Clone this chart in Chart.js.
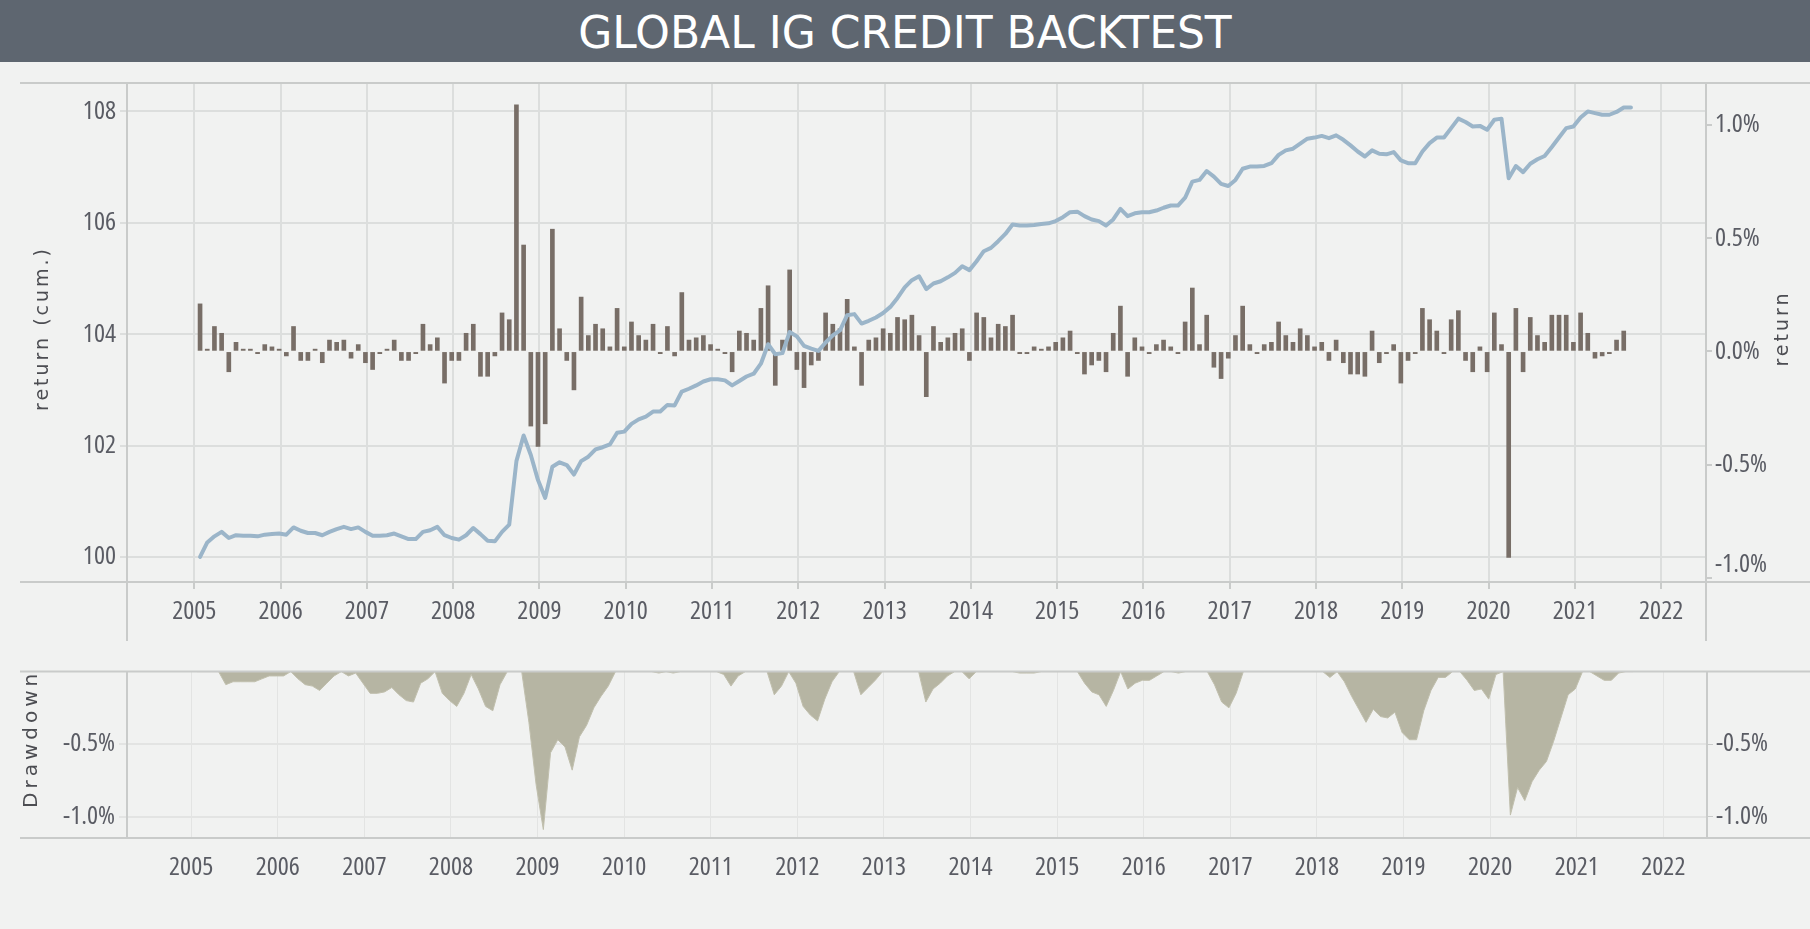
<!DOCTYPE html>
<html>
<head>
<meta charset="utf-8">
<title>Global IG Credit Backtest</title>
<script src="https://cdn.jsdelivr.net/npm/chart.js@4.4.0/dist/chart.umd.min.js"></script>
<style>
  html, body { margin: 0; padding: 0; background: #f1f2f1; }
  body { width: 1810px; height: 929px; position: relative; overflow: hidden; }
  .header {
    position: absolute; left: 0; top: 0; width: 1810px; height: 60px; padding-top: 2px;
    background: #5e6670; color: #fff; text-align: center;
    font-family: 'DejaVu Sans', Verdana, sans-serif; font-size: 44px; line-height: 62px;
  }
  #mainChart { position: absolute; left: 0; top: 62px; }
  #ddChart { position: absolute; left: 0; top: 652px; }
</style>
</head>
<body>
<div class="header">GLOBAL IG CREDIT BACKTEST</div>
<canvas id="mainChart" width="1810" height="590"></canvas>
<canvas id="ddChart" width="1810" height="277"></canvas>
<script>
// monthly observations, first one is Jan 2005
const firstYear = 2005;
const years = [2005, 2006, 2007, 2008, 2009, 2010, 2011, 2012, 2013, 2014, 2015, 2016, 2017, 2018, 2019, 2020, 2021, 2022];
const cumTicks = [100, 102, 104, 106, 108];
const returnTicks = [-1, -0.5, 0, 0.5, 1];
const drawdownTicks = [-1, -0.5];

// cumulative return index
const cumReturn = [
  100.00, 100.26, 100.37, 100.45, 100.34, 100.39, 100.38, 100.38, 100.37, 100.40, 100.41, 100.42,
  100.40, 100.53, 100.47, 100.43, 100.43, 100.39, 100.45, 100.50, 100.54, 100.50, 100.53, 100.45,
  100.38, 100.38, 100.39, 100.42, 100.37, 100.32, 100.32, 100.45, 100.48, 100.54, 100.39, 100.34,
  100.31, 100.39, 100.52, 100.41, 100.29, 100.28, 100.45, 100.58, 101.72, 102.18, 101.83, 101.38,
  101.06, 101.62, 101.70, 101.65, 101.48, 101.72, 101.80, 101.93, 101.97, 102.02, 102.23, 102.25,
  102.39, 102.47, 102.52, 102.61, 102.61, 102.73, 102.72, 102.97, 103.02, 103.08, 103.15, 103.19,
  103.19, 103.17, 103.08, 103.16, 103.24, 103.29, 103.47, 103.82, 103.64, 103.66, 104.04, 103.96,
  103.79, 103.74, 103.70, 103.85, 103.98, 104.07, 104.34, 104.36, 104.19, 104.24, 104.30, 104.38,
  104.49, 104.65, 104.84, 104.97, 105.04, 104.81, 104.91, 104.95, 105.02, 105.10, 105.22, 105.15,
  105.31, 105.49, 105.55, 105.67, 105.80, 105.97, 105.95, 105.95, 105.96, 105.98, 105.99, 106.03,
  106.10, 106.19, 106.20, 106.12, 106.06, 106.03, 105.95, 106.06, 106.25, 106.12, 106.17, 106.19,
  106.19, 106.22, 106.27, 106.31, 106.31, 106.45, 106.74, 106.77, 106.93, 106.83, 106.70, 106.66,
  106.77, 106.97, 107.01, 107.01, 107.02, 107.07, 107.22, 107.30, 107.33, 107.42, 107.51, 107.53,
  107.56, 107.52, 107.57, 107.49, 107.39, 107.28, 107.19, 107.30, 107.24, 107.23, 107.27, 107.12,
  107.07, 107.07, 107.28, 107.43, 107.53, 107.53, 107.70, 107.87, 107.81, 107.73, 107.74, 107.67,
  107.85, 107.87, 106.80, 107.02, 106.91, 107.06, 107.14, 107.20, 107.36, 107.53, 107.70, 107.73,
  107.89, 108.00, 107.97, 107.94, 107.94, 107.99, 108.07, 108.07
];

// monthly return in %
const monthlyReturn = [
  0.21, 0.01, 0.11, 0.08, -0.09, 0.04, 0.01, 0.01, -0.01, 0.03, 0.02, 0.01,
  -0.02, 0.11, -0.04, -0.04, 0.01, -0.05, 0.05, 0.04, 0.05, -0.03, 0.03, -0.05,
  -0.08, -0.01, 0.01, 0.05, -0.04, -0.04, -0.01, 0.12, 0.03, 0.06, -0.14, -0.04,
  -0.04, 0.08, 0.12, -0.11, -0.11, -0.02, 0.17, 0.14, 1.09, 0.47, -0.33, -0.42,
  -0.32, 0.54, 0.10, -0.04, -0.17, 0.24, 0.07, 0.12, 0.10, 0.02, 0.19, 0.02,
  0.13, 0.07, 0.05, 0.12, -0.01, 0.11, -0.02, 0.26, 0.05, 0.06, 0.07, 0.03,
  0.01, -0.01, -0.09, 0.09, 0.08, 0.05, 0.19, 0.29, -0.15, 0.05, 0.36, -0.08,
  -0.16, -0.06, -0.04, 0.17, 0.12, 0.10, 0.23, 0.02, -0.15, 0.05, 0.06, 0.10,
  0.08, 0.15, 0.14, 0.16, 0.07, -0.20, 0.11, 0.04, 0.06, 0.08, 0.10, -0.04,
  0.17, 0.15, 0.06, 0.12, 0.11, 0.16, -0.01, -0.01, 0.02, 0.01, 0.02, 0.04,
  0.06, 0.09, -0.01, -0.10, -0.06, -0.04, -0.09, 0.08, 0.20, -0.11, 0.06, 0.02,
  -0.01, 0.03, 0.05, 0.02, -0.01, 0.13, 0.28, 0.03, 0.16, -0.07, -0.12, -0.03,
  0.07, 0.20, 0.03, -0.01, 0.03, 0.04, 0.13, 0.07, 0.04, 0.10, 0.07, 0.02,
  0.04, -0.04, 0.05, -0.05, -0.10, -0.10, -0.11, 0.09, -0.05, -0.01, 0.03, -0.14,
  -0.04, -0.01, 0.19, 0.14, 0.09, -0.01, 0.14, 0.18, -0.04, -0.09, 0.02, -0.09,
  0.17, 0.03, -0.91, 0.19, -0.09, 0.15, 0.07, 0.04, 0.16, 0.16, 0.16, 0.04,
  0.17, 0.08, -0.03, -0.02, -0.01, 0.05, 0.09
];

// drawdown in %
const drawdown = [
  0, 0, 0, 0, -0.09, -0.07, -0.07, -0.07, -0.07, -0.05, -0.03, -0.03,
  -0.03, 0, -0.05, -0.09, -0.10, -0.13, -0.08, -0.03, 0, -0.03, -0.01, -0.08,
  -0.15, -0.15, -0.14, -0.11, -0.16, -0.20, -0.21, -0.08, -0.05, 0, -0.15, -0.20,
  -0.24, -0.15, -0.02, -0.12, -0.24, -0.27, -0.09, 0, 0, 0, -0.35, -0.78,
  -1.09, -0.56, -0.47, -0.52, -0.68, -0.45, -0.37, -0.25, -0.17, -0.10, 0, 0,
  0, 0, 0, 0, -0.01, 0, -0.01, 0, 0, 0, 0, 0,
  0, -0.02, -0.10, -0.03, 0, 0, 0, 0, -0.16, -0.10, 0, -0.08,
  -0.24, -0.30, -0.34, -0.19, -0.07, 0, 0, 0, -0.16, -0.11, -0.06, 0,
  0, 0, 0, 0, 0, -0.21, -0.12, -0.08, -0.03, 0, 0, -0.05,
  0, 0, 0, 0, 0, 0, -0.01, -0.01, -0.01, 0, 0, 0,
  0, 0, 0, -0.08, -0.14, -0.16, -0.24, -0.13, 0, -0.12, -0.08, -0.06,
  -0.06, -0.03, 0, 0, -0.01, 0, 0, 0, 0, -0.09, -0.21, -0.25,
  -0.15, 0, 0, 0, 0, 0, 0, 0, 0, 0, 0, 0,
  0, -0.04, 0, -0.07, -0.17, -0.26, -0.35, -0.26, -0.31, -0.32, -0.28, -0.42,
  -0.47, -0.47, -0.27, -0.13, -0.04, -0.04, 0, 0, -0.06, -0.13, -0.12, -0.19,
  -0.02, 0, -0.99, -0.80, -0.89, -0.76, -0.68, -0.62, -0.48, -0.32, -0.16, -0.12,
  0, 0, -0.03, -0.06, -0.06, -0.01, 0, 0
];

const monthX = i => firstYear + (i + 0.8) / 12;
const toPoints = arr => arr.map((v, i) => ({ x: monthX(i), y: v }));
const quarterTicks = years.slice(0, -1).flatMap(y => [y, y + 0.25, y + 0.5, y + 0.75])
  .concat([years[0] - 0.75, years[0] - 0.5, years[0] - 0.25, years[years.length - 1], years[years.length - 1] + 0.25, years[years.length - 1] + 0.5])
  .sort((a, b) => a - b);

// condensed width goes in through the weight part of the font string
Chart.defaults.font.family = "'Open Sans', 'DejaVu Sans Condensed', sans-serif";
Chart.defaults.font.weight = '400 condensed';
Chart.defaults.font.size = 26;
Chart.defaults.color = '#5a5c64';
Chart.defaults.animation = false;

const frameColor = '#c9cbca';
const gridColor = '#dcdedd';
const pct = v => v.toFixed(1) + '%';

// outer panel lines (full width rules and the vertical axis lines)
const panelFrame = (extend) => ({
  id: 'panelFrame',
  afterDatasetsDraw(chart) {
    const { ctx, chartArea: a, width } = chart;
    ctx.save();
    ctx.strokeStyle = frameColor;
    ctx.lineWidth = 2;
    ctx.beginPath();
    ctx.moveTo(20, a.top); ctx.lineTo(width, a.top);
    ctx.moveTo(20, a.bottom); ctx.lineTo(width, a.bottom);
    ctx.moveTo(a.left, a.top); ctx.lineTo(a.left, a.bottom + extend);
    ctx.moveTo(a.right, a.top); ctx.lineTo(a.right, a.bottom + extend);
    ctx.stroke();
    ctx.restore();
  }
});

// rotated axis titles with letter spacing
const sideTitles = (items) => ({
  id: 'sideTitles',
  afterDraw(chart) {
    const { ctx, chartArea } = chart;
    items.forEach(t => {
      const s = chart.scales[t.scale];
      const x = t.side === 'left' ? s.left + t.offset : s.right - t.offset;
      const y = (chartArea.top + chartArea.bottom) / 2 + t.shift;
      ctx.save();
      ctx.translate(x, y);
      ctx.rotate(-Math.PI / 2);
      ctx.font = t.font;
      ctx.letterSpacing = t.spacing;
      ctx.fillStyle = '#4c4d52';
      ctx.textAlign = 'center';
      ctx.textBaseline = 'middle';
      ctx.fillText(t.text, 0, 0);
      ctx.restore();
    });
  }
});

const isYear = v => Number.isInteger(v);

new Chart(document.getElementById('mainChart'), {
  type: 'bar',
  data: {
    datasets: [
      {
        type: 'line',
        label: 'return (cum.)',
        data: toPoints(cumReturn),
        yAxisID: 'y',
        borderColor: '#9bb5c9',
        borderWidth: 4,
        pointRadius: 0,
        tension: 0,
        borderJoinStyle: 'round',
        borderCapStyle: 'round',
        order: 0
      },
      {
        type: 'bar',
        label: 'return',
        data: toPoints(monthlyReturn),
        yAxisID: 'y1',
        backgroundColor: '#786e67',
        barThickness: 4,
        order: 1
      }
    ]
  },
  options: {
    responsive: false,
    layout: { padding: { top: 21, left: 0, right: 0, bottom: 0 } },
    plugins: { legend: { display: false }, tooltip: { enabled: false } },
    scales: {
      x: {
        type: 'linear',
        min: 2004.22,
        max: 2022.52,
        offset: false,
        afterFit: s => { s.height = 70; },
        afterBuildTicks: s => { s.ticks = quarterTicks.map(v => ({ value: v })); },
        border: { display: false },
        grid: {
          offset: false,
          color: c => isYear(c.tick.value) ? gridColor : 'rgba(0,0,0,0)',
          lineWidth: 2,
          tickLength: 7,
          tickColor: c => isYear(c.tick.value) ? frameColor : '#d6d8d7',
          tickWidth: c => isYear(c.tick.value) ? 2 : 1
        },
        ticks: {
          autoSkip: false,
          maxRotation: 0,
          minRotation: 0,
          padding: 7,
          callback: v => isYear(v) ? String(v) : null
        }
      },
      y: {
        position: 'left',
        min: 99.55,
        max: 108.51,
        afterFit: s => { s.width = 127; },
        afterBuildTicks: s => { s.ticks = cumTicks.map(v => ({ value: v })); },
        border: { display: false },
        grid: { color: gridColor, lineWidth: 2, tickLength: 7, tickColor: gridColor },
        ticks: { padding: 4 }
      },
      y1: {
        position: 'right',
        min: -1.019,
        max: 1.186,
        afterFit: s => { s.width = 104; },
        afterBuildTicks: s => { s.ticks = returnTicks.map(v => ({ value: v })); },
        border: { display: false },
        grid: { drawOnChartArea: false, tickLength: 6, tickColor: frameColor, lineWidth: 2 },
        // the lowest label sits just above the bottom rule
        ticks: { padding: 3, font: { lineHeight: 1 }, callback: v => v === -1 ? [pct(v), ''] : pct(v) }
      }
    }
  },
  plugins: [
    panelFrame(59),
    sideTitles([
      { scale: 'y', side: 'left', offset: 43, shift: -4, text: 'return (cum.)', font: "19px 'DejaVu Sans'", spacing: '3px' },
      { scale: 'y1', side: 'right', offset: 27, shift: -4, text: 'return', font: "19px 'DejaVu Sans'", spacing: '3px' }
    ])
  ]
});

new Chart(document.getElementById('ddChart'), {
  type: 'line',
  data: {
    datasets: [{
      label: 'Drawdown',
      data: toPoints(drawdown),
      yAxisID: 'y',
      fill: 'origin',
      backgroundColor: '#b6b5a3',
      borderColor: '#c0bfad',
      borderWidth: 1,
      pointRadius: 0,
      tension: 0
    }]
  },
  options: {
    responsive: false,
    layout: { padding: { top: 11, left: 0, right: 0, bottom: 0 } },
    plugins: { legend: { display: false }, tooltip: { enabled: false } },
    scales: {
      x: {
        type: 'linear',
        min: 2004.259,
        max: 2022.504,
        afterFit: s => { s.height = 91; },
        afterBuildTicks: s => { s.ticks = years.map(v => ({ value: v })); },
        border: { display: false },
        grid: { color: '#e3e4e3', lineWidth: 1, drawTicks: false },
        ticks: { autoSkip: false, maxRotation: 0, minRotation: 0, padding: 14, callback: v => String(v) }
      },
      y: {
        position: 'left',
        min: -1.148,
        max: 0,
        afterFit: s => { s.width = 127; },
        afterBuildTicks: s => { s.ticks = drawdownTicks.map(v => ({ value: v })); },
        border: { display: false },
        grid: { color: '#e3e4e3', lineWidth: 2, tickLength: 8, tickColor: '#e3e4e3' },
        ticks: { padding: 4, callback: pct }
      },
      y2: {
        position: 'right',
        min: -1.148,
        max: 0,
        afterFit: s => { s.width = 103; },
        afterBuildTicks: s => { s.ticks = drawdownTicks.map(v => ({ value: v })); },
        border: { display: false },
        grid: { drawOnChartArea: false, tickLength: 6, tickColor: frameColor },
        ticks: { padding: 3, callback: pct }
      }
    }
  },
  plugins: [
    panelFrame(0),
    sideTitles([
      { scale: 'y', side: 'left', offset: 32, shift: -16, text: 'Drawdown', font: "20px 'DejaVu Sans'", spacing: '4px' }
    ])
  ]
});
</script>
</body>
</html>
